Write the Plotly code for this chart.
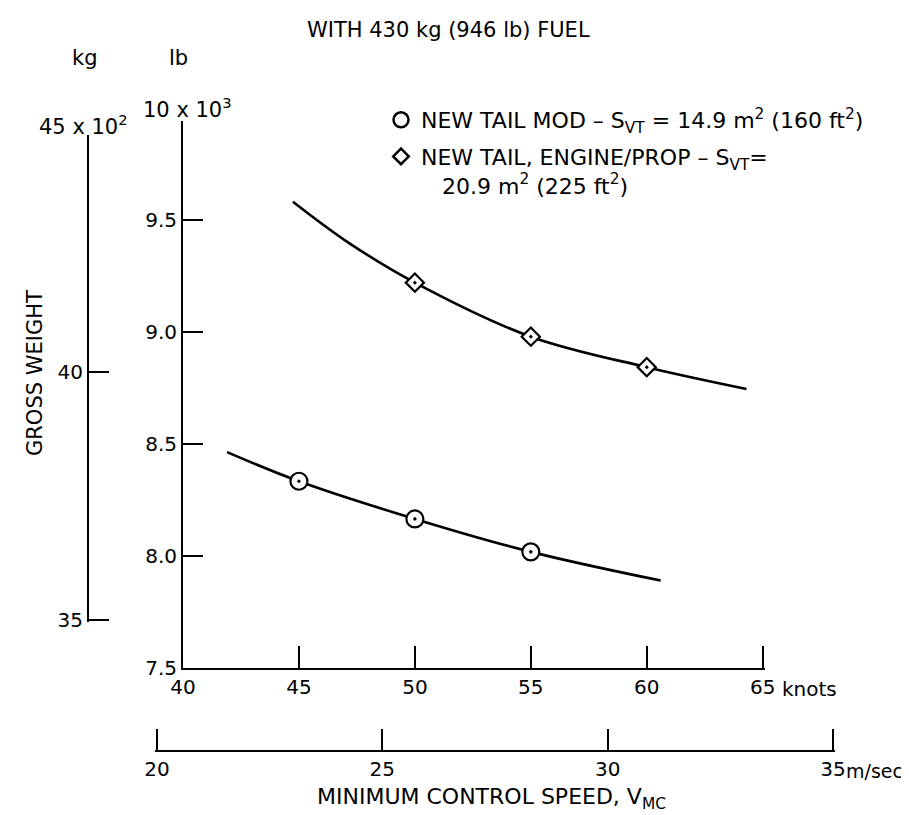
import plotly.graph_objects as go

W, H = 909, 815

# ---------------- data ----------------
knots_ticks = [40, 45, 50, 55, 60, 65]
knots_labels = ["40", "45", "50", "55", "60", "65"]
lb_ticks = [7.5, 8.0, 8.5, 9.0, 9.5]
lb_labels = ["7.5", "8.0", "8.5", "9.0", "9.5"]
kg_ticks = [35, 40]
kg_labels = ["35", "40"]
ms_ticks = [20, 25, 30, 35]
ms_labels = ["20", "25", "30", "35"]

# New tail mod (S_VT = 14.9 m2) - test points and faired curve
tail_mod_knots = [45, 50, 55]
tail_mod_lb = [8.333, 8.165, 8.018]
tail_mod_fair_knots = [41.9, 45, 50, 55, 60.6]
tail_mod_fair_lb = [8.463, 8.333, 8.165, 8.018, 7.89]

# New tail, engine/prop (S_VT = 20.9 m2) - test points and faired curve
engine_knots = [50, 55, 60]
engine_lb = [9.219, 8.978, 8.842]
engine_fair_knots = [44.74, 47.1, 50, 55, 60, 64.3]
engine_fair_lb = [9.58, 9.40, 9.219, 8.978, 8.842, 8.745]

LB_PER_KG = 2.20462
KN_PER_MS = 1.943844

X_RANGE = [40, 65.1]        # knots
Y_RANGE = [7.5, 9.94]       # x10^3 lb
KG_RANGE = [34.95, 44.8]    # x10^2 kg
MS_RANGE = [19.95, 35.05]   # m/sec

FONT = "DejaVu Sans"
FS_TEXT = 21
FS_TICK = 20
FS_LEGEND = 22


def pxx(x):
    return x / W


def pxy(y):
    return 1 - y / H


x_dom = [pxx(175), pxx(757)]
y_dom = [pxy(660), pxy(113)]


def lb_to_paper(v):
    return y_dom[0] + (v - Y_RANGE[0]) / (Y_RANGE[1] - Y_RANGE[0]) * (y_dom[1] - y_dom[0])


def kn_to_paper(v):
    return x_dom[0] + (v - X_RANGE[0]) / (X_RANGE[1] - X_RANGE[0]) * (x_dom[1] - x_dom[0])


kg_dom = [lb_to_paper(KG_RANGE[0] * 100 * LB_PER_KG / 1000),
          lb_to_paper(KG_RANGE[1] * 100 * LB_PER_KG / 1000)]
ms_dom = [kn_to_paper(MS_RANGE[0] * KN_PER_MS), kn_to_paper(MS_RANGE[1] * KN_PER_MS)]

fig = go.Figure()

line_style = dict(color="black", width=2.6, shape="spline", smoothing=1.0)
fig.add_trace(go.Scatter(x=tail_mod_fair_knots, y=tail_mod_fair_lb, mode="lines",
                         line=line_style, showlegend=False, hoverinfo="skip"))
fig.add_trace(go.Scatter(x=engine_fair_knots, y=engine_fair_lb, mode="lines",
                         line=line_style, showlegend=False, hoverinfo="skip"))
fig.add_trace(go.Scatter(x=tail_mod_knots, y=tail_mod_lb, mode="markers",
                         marker=dict(symbol="circle-dot", size=17, color="white",
                                     line=dict(color="black", width=2.2)),
                         showlegend=False))
fig.add_trace(go.Scatter(x=engine_knots, y=engine_lb, mode="markers",
                         marker=dict(symbol="diamond-dot", size=14, color="white",
                                     line=dict(color="black", width=2.2)),
                         showlegend=False))

# legend entries
fig.add_trace(go.Scatter(x=[None], y=[None], mode="markers", legendgroup="a",
                         name="NEW TAIL MOD – S<sub>VT</sub> = 14.9 m<sup>2</sup> (160 ft<sup>2</sup>)",
                         marker=dict(symbol="circle-open", size=15, color="black",
                                     line=dict(color="black", width=2.5))))
fig.add_trace(go.Scatter(x=[None], y=[None], mode="markers", legendgroup="b",
                         name="NEW TAIL, ENGINE/PROP – S<sub>VT</sub>=<br>&nbsp;&nbsp;&nbsp;20.9 m<sup>2</sup> (225 ft<sup>2</sup>)",
                         marker=dict(symbol="diamond-open", size=12, color="black",
                                     line=dict(color="black", width=2.5))))

# carriers for the kg and m/sec scales
fig.add_trace(go.Scatter(x=[None], y=[None], xaxis="x", yaxis="y3", showlegend=False,
                         hoverinfo="skip"))
fig.add_trace(go.Scatter(x=[None], y=[None], xaxis="x3", yaxis="y4", showlegend=False,
                         hoverinfo="skip"))

axis_common = dict(showgrid=False, zeroline=False, showline=True, linecolor="black",
                   linewidth=2, ticks="inside", tickcolor="black", tickwidth=2,
                   tickfont=dict(family=FONT, size=FS_TICK, color="black"), automargin=False,
                   fixedrange=True)

fig.update_layout(
    width=W, height=H,
    margin=dict(l=0, r=0, t=0, b=0),
    paper_bgcolor="white", plot_bgcolor="rgba(0,0,0,0)",
    template="none",
    font=dict(family=FONT, size=FS_TEXT, color="black"),
    xaxis=dict(domain=x_dom, range=X_RANGE, anchor="y", tickvals=knots_ticks,
               ticktext=knots_labels, ticklen=22, **axis_common),
    yaxis=dict(domain=y_dom, range=Y_RANGE, anchor="x", tickvals=lb_ticks,
               ticktext=lb_labels, ticklen=20, **axis_common),
    yaxis3=dict(domain=kg_dom, range=KG_RANGE, anchor="free", position=pxx(80),
                side="left", tickvals=kg_ticks, ticktext=kg_labels, ticklen=20,
                **axis_common),
    xaxis3=dict(domain=ms_dom, range=MS_RANGE, anchor="y4", tickvals=ms_ticks,
                ticktext=ms_labels, ticklen=21, **axis_common),
    yaxis4=dict(domain=[pxy(742), pxy(730)], range=[0, 1], anchor="x3", visible=False),
    showlegend=True,
    legend=dict(x=pxx(373), y=pxy(91), xanchor="left", yanchor="top",
                bgcolor="rgba(0,0,0,0)", font=dict(family=FONT, size=FS_LEGEND, color="black"),
                traceorder="grouped", tracegroupgap=5, valign="top"),
)

ann = dict(showarrow=False, font=dict(family=FONT, size=FS_TEXT, color="black"))
tick_ann = dict(showarrow=False, font=dict(family=FONT, size=FS_TICK, color="black"))
annotations = [
    dict(text="WITH 430 kg (946 lb) FUEL", xref="paper", yref="paper",
         x=pxx(440), y=pxy(22), xanchor="center", yanchor="middle", **ann),
    dict(text="kg", xref="paper", yref="paper", x=pxx(77), y=pxy(50),
         xanchor="center", yanchor="middle", **ann),
    dict(text="lb", xref="paper", yref="paper", x=pxx(170), y=pxy(50),
         xanchor="center", yanchor="middle", **ann),
    dict(text="45 x 10<sup>2</sup>", xref="paper", yref="paper", x=pxx(75),
         y=lb_to_paper(45 * 100 * LB_PER_KG / 1000), xanchor="center", yanchor="middle", **ann),
    dict(text="10 x 10<sup>3</sup>", xref="paper", yref="paper", x=pxx(179),
         y=lb_to_paper(10), xanchor="center", yanchor="middle", **ann),
    dict(text="knots", xref="x", yref="paper", x=65, y=pxy(681), xanchor="left",
         yanchor="middle", xshift=17, **tick_ann),
    dict(text="m/sec", xref="x3", yref="paper", x=35, y=pxy(763), xanchor="left",
         yanchor="middle", xshift=11, showarrow=False,
         font=dict(family=FONT, size=19, color="black")),
    dict(text="GROSS WEIGHT", xref="paper", yref="paper", x=pxx(27), y=pxy(365),
         textangle=-90, xanchor="center", yanchor="middle",
         showarrow=False, font=dict(family=FONT, size=21, color="black")),
    dict(text="MINIMUM CONTROL SPEED, V<sub>MC</sub>", xref="paper", yref="paper",
         x=pxx(484), y=pxy(790), xanchor="center", yanchor="middle",
         showarrow=False, font=dict(family=FONT, size=22, color="black")),
]
fig.update_layout(annotations=annotations)

fig.write_html("out.html")
